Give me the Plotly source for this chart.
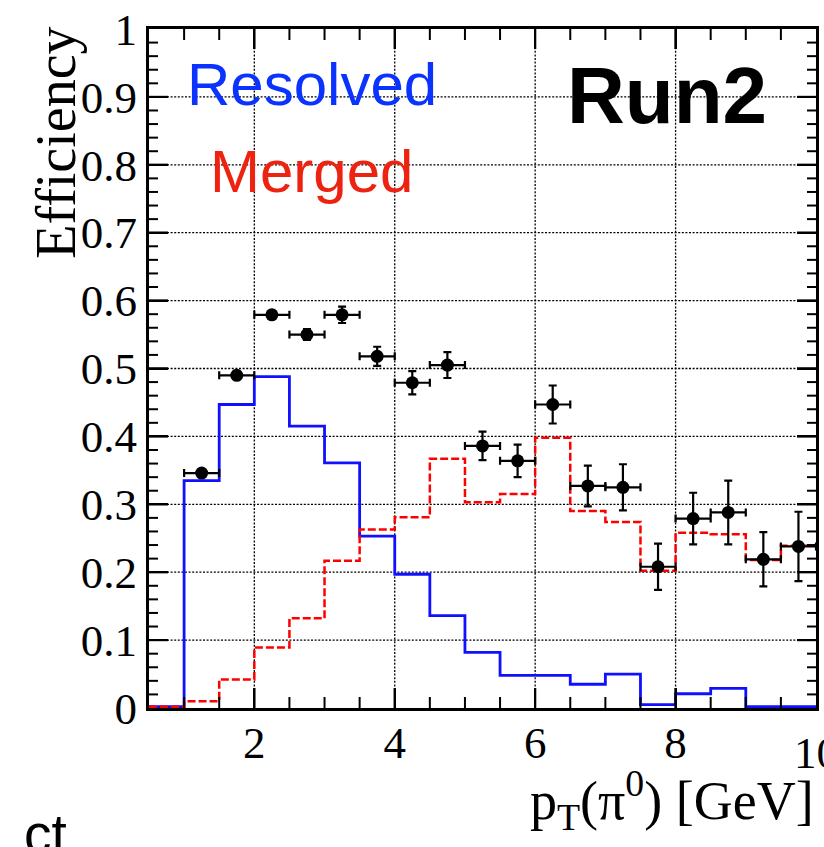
import plotly.graph_objects as go

# ---- data ----
bin_edges = [0.5, 1.0, 1.5, 2.0, 2.5, 3.0, 3.5, 4.0, 4.5, 5.0, 5.5,
             6.0, 6.5, 7.0, 7.5, 8.0, 8.5, 9.0, 9.5, 10.0]
resolved = [0.002, 0.335, 0.447, 0.488, 0.415, 0.361, 0.253, 0.197, 0.136, 0.082,
            0.048, 0.048, 0.035, 0.050, 0.005, 0.021, 0.029, 0.002, 0.002]
merged = [0.002, 0.010, 0.042, 0.089, 0.132, 0.217, 0.263, 0.281, 0.367, 0.303,
          0.315, 0.398, 0.290, 0.274, 0.202, 0.258, 0.256, 0.218, 0.239]
pt_centers = [1.25, 1.75, 2.25, 2.75, 3.25, 3.75, 4.25, 4.75, 5.25, 5.75,
              6.25, 6.75, 7.25, 7.75, 8.25, 8.75, 9.25, 9.75]
eff_total = [0.346, 0.490, 0.579, 0.550, 0.579, 0.518, 0.479, 0.505, 0.386, 0.364,
             0.447, 0.327, 0.325, 0.208, 0.279, 0.288, 0.219, 0.238]
eff_err = [0.004, 0.005, 0.006, 0.008, 0.012, 0.014, 0.017, 0.019, 0.021, 0.024,
           0.028, 0.030, 0.034, 0.034, 0.038, 0.047, 0.040, 0.051]
bin_half_width = 0.25

x_ticks = [2, 4, 6, 8, 10]
y_ticks = [0, 0.1, 0.2, 0.3, 0.4, 0.5, 0.6, 0.7, 0.8, 0.9, 1.0]
x_range = [0.5, 10]
y_range = [0, 1]
x_minor_step = 0.5
y_minor_step = 0.02

SERIF = "Liberation Serif"
SANS = "Liberation Sans"

fig = go.Figure()

# dotted grid at the major ticks (drawn below the data)
grid_line = dict(color="black", width=1.3, dash="2px,1.6px")
for xv in x_ticks:
    if x_range[0] < xv < x_range[1]:
        fig.add_vline(x=xv, line=grid_line, layer="below")
for yv in y_ticks:
    if y_range[0] < yv < y_range[1]:
        fig.add_hline(y=yv, line=grid_line, layer="below")

fig.add_trace(go.Scatter(
    x=bin_edges, y=resolved + [resolved[-1]], mode="lines", line_shape="hv",
    line=dict(color="#1010ff", width=2.8), showlegend=False, hoverinfo="skip"))
fig.add_trace(go.Scatter(
    x=bin_edges, y=merged + [merged[-1]], mode="lines", line_shape="hv",
    line=dict(color="#ff0000", width=2.5, dash="8px,3px"), showlegend=False, hoverinfo="skip"))
fig.add_trace(go.Scatter(
    x=pt_centers, y=eff_total, mode="markers",
    marker=dict(color="black", size=13),
    error_x=dict(type="constant", value=bin_half_width, color="black", thickness=2.2, width=4),
    error_y=dict(type="data", array=eff_err, color="black", thickness=2.2, width=4),
    showlegend=False))

# inward frame ticks (ROOT style) on all four sides, as pixel-sized shapes anchored on the axes
n_xminor = int(round((x_range[1] - x_range[0]) / x_minor_step))
x_minor = [round(x_range[0] + k * x_minor_step, 4) for k in range(1, n_xminor)]
n_yminor = int(round((y_range[1] - y_range[0]) / y_minor_step))
y_minor = [round(y_range[0] + k * y_minor_step, 4) for k in range(1, n_yminor)]
x_major_in = [v for v in x_ticks if x_range[0] < v < x_range[1]]
y_major_in = [v for v in y_ticks if y_range[0] < v < y_range[1]]

tick_line = dict(color="black", width=2)
for v in x_minor + x_major_in:
    ln = 20 if v in x_major_in else 11
    for anchor, sgn in [(y_range[0], 1), (y_range[1], -1)]:
        fig.add_shape(type="line", xref="x", yref="y", x0=v, x1=v,
                      ysizemode="pixel", yanchor=anchor, y0=0, y1=sgn * ln,
                      line=tick_line, layer="above")
for v in y_minor + y_major_in:
    ln = 19 if v in y_major_in else 9
    for anchor, sgn in [(x_range[0], 1), (x_range[1], -1)]:
        fig.add_shape(type="line", xref="x", yref="y", y0=v, y1=v,
                      xsizemode="pixel", xanchor=anchor, x0=0, x1=sgn * ln,
                      line=tick_line, layer="above")

axis_common = dict(ticks="inside", tickcolor="black", showline=True, linewidth=3,
                   linecolor="black", mirror="ticks", showgrid=False, zeroline=False,
                   tickmode="array", layer="above traces",
                   tickfont=dict(family=SERIF, size=45, color="black"))

fig.update_layout(
    xaxis=dict(range=x_range, tickvals=x_ticks, ticklen=20, tickwidth=2,
               ticklabelstandoff=-7, **axis_common),
    yaxis=dict(range=y_range, tickvals=y_ticks, ticklen=19, tickwidth=2, **axis_common),
)

annotations = [
    dict(text="Resolved", x=0.0537, y=0.918, xanchor="left", yanchor="middle",
         font=dict(family=SANS, size=60, color="#0a33ff")),
    dict(text="Merged", x=0.088, y=0.790, xanchor="left", yanchor="middle",
         font=dict(family=SANS, size=60, color="#ee2211")),
    dict(text="<b>Run2</b>", x=0.624, y=0.902, xanchor="left", yanchor="middle",
         font=dict(family=SANS, size=80, color="black")),
    dict(text="Efficiency", x=-0.140, y=0.832, xanchor="center", yanchor="middle",
         textangle=-90, font=dict(family=SERIF, size=56, color="black")),
    dict(text="p<sub>T</sub>(π<sup>0</sup>) [GeV]", x=1.0, y=-0.135, xanchor="right",
         yanchor="middle", font=dict(family=SERIF, size=54, color="black")),
    dict(text="ct", x=-0.1905, y=-0.185, xanchor="left", yanchor="middle",
         font=dict(family=SANS, size=55, color="black")),
]
for a in annotations:
    a.update(xref="paper", yref="paper", showarrow=False)
# last x tick label sits on the frame edge and is cut by the page, as in the original
annotations.append(dict(text=str(x_ticks[-1]), x=x_ticks[-1], xref="x", y=-0.067, yref="paper",
                        xanchor="center", yanchor="middle", showarrow=False,
                        font=dict(family=SERIF, size=45, color="black")))

fig.update_layout(
    width=824, height=847, margin=dict(l=149, r=5, t=25, b=139),
    paper_bgcolor="white", plot_bgcolor="white", annotations=annotations,
    showlegend=False)

fig.write_html("out.html")
